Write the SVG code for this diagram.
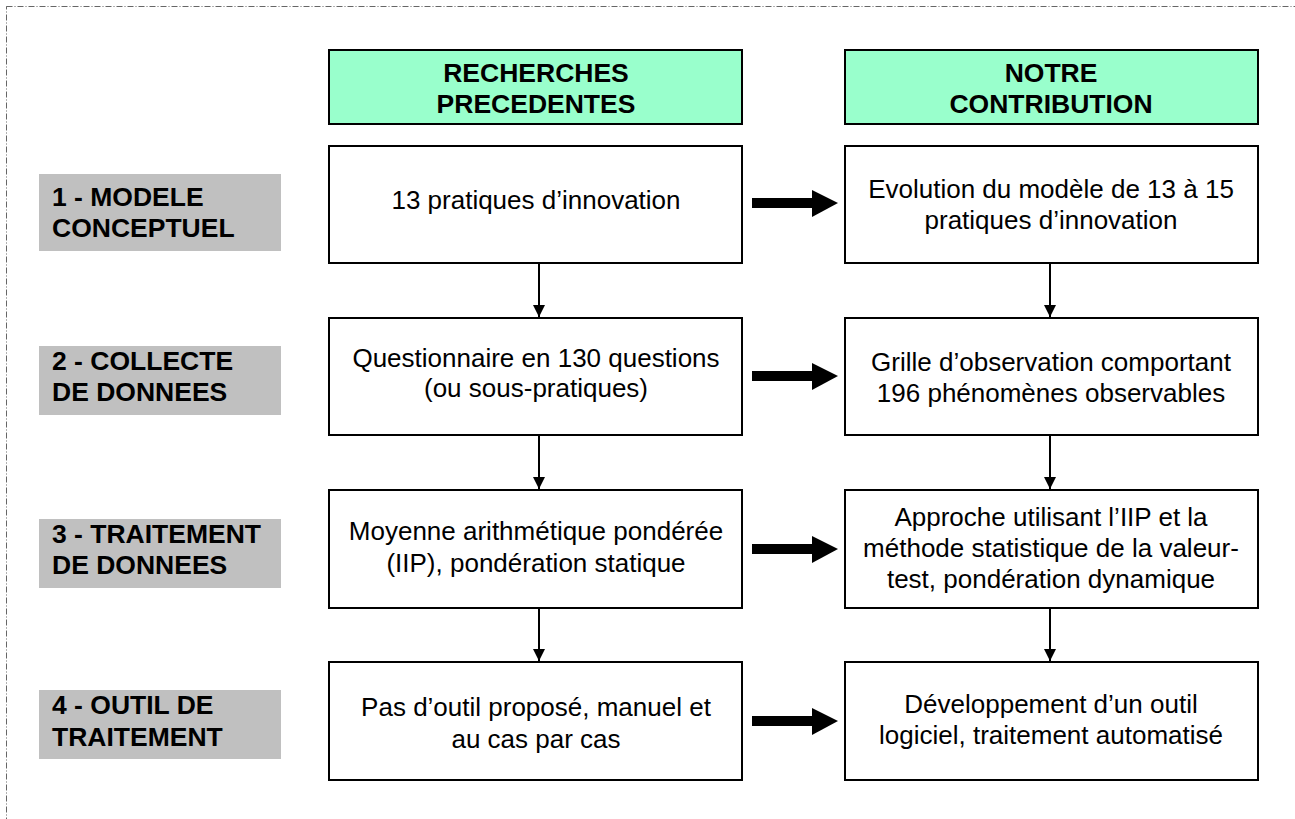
<svg xmlns="http://www.w3.org/2000/svg" width="1295" height="819" viewBox="0 0 1295 819">
<defs>
<style>
.frame{fill:none;stroke:#666;stroke-width:1;stroke-dasharray:6 2 1 2}
.box{fill:#fff;stroke:#000;stroke-width:2}
.hdr{fill:#99ffcc;stroke:#000;stroke-width:2}
.lab{fill:#c0c0c0;stroke:none}
.t{font-family:"Liberation Sans",Arial,sans-serif;font-size:26px;fill:#000;text-anchor:middle}
.b{font-family:"Liberation Sans",Arial,sans-serif;font-size:26.5px;font-weight:bold;fill:#000}
.bc{text-anchor:middle}
.v{stroke:#000;stroke-width:2;fill:none}
</style>
<marker id="ah" markerWidth="12" markerHeight="12" refX="12" refY="6" orient="auto" markerUnits="userSpaceOnUse"><path d="M0,0 L12,6 L0,12 Z" fill="#000"/></marker>
</defs>
<rect class="frame" x="6.5" y="6.5" width="1300" height="830"/>

<g id="hdr-left"><rect class="hdr" x="329" y="50" width="413" height="74"/><text class="b bc" x="536" y="82">RECHERCHES</text><text class="b bc" x="536" y="113">PRECEDENTES</text></g>
<g id="hdr-right"><rect class="hdr" x="845" y="50" width="413" height="74"/><text class="b bc" x="1051" y="82">NOTRE</text><text class="b bc" x="1051" y="113">CONTRIBUTION</text></g>

<g id="lab1"><rect class="lab" x="39" y="174" width="242" height="77"/><text class="b" x="52" y="206">1 - MODELE</text><text class="b" x="52" y="237">CONCEPTUEL</text></g>
<g id="lab2"><rect class="lab" x="39" y="346" width="242" height="69"/><text class="b" x="52" y="370">2 - COLLECTE</text><text class="b" x="52" y="401">DE DONNEES</text></g>
<g id="lab3"><rect class="lab" x="39" y="519" width="242" height="69"/><text class="b" x="52" y="543">3 - TRAITEMENT</text><text class="b" x="52" y="574">DE DONNEES</text></g>
<g id="lab4"><rect class="lab" x="39" y="690" width="242" height="69"/><text class="b" x="52" y="714">4 - OUTIL DE</text><text class="b" x="52" y="746">TRAITEMENT</text></g>

<g id="l1"><rect class="box" x="329" y="146" width="413" height="117"/><text class="t" x="536" y="209">13 pratiques d’innovation</text></g>
<g id="r1"><rect class="box" x="845" y="146" width="413" height="117"/><text class="t" x="1051" y="198">Evolution du modèle de 13 à 15</text><text class="t" x="1051" y="229">pratiques d’innovation</text></g>
<g id="l2"><rect class="box" x="329" y="318" width="413" height="117"/><text class="t" x="536" y="367">Questionnaire en 130 questions</text><text class="t" x="536" y="397">(ou sous-pratiques)</text></g>
<g id="r2"><rect class="box" x="845" y="318" width="413" height="117"/><text class="t" x="1051" y="371">Grille d’observation comportant</text><text class="t" x="1051" y="402">196 phénomènes observables</text></g>
<g id="l3"><rect class="box" x="329" y="490" width="413" height="118"/><text class="t" x="536" y="540">Moyenne arithmétique pondérée</text><text class="t" x="536" y="572">(IIP), pondération statique</text></g>
<g id="r3"><rect class="box" x="845" y="490" width="413" height="118"/><text class="t" x="1051" y="526">Approche utilisant l’IIP et la</text><text class="t" x="1051" y="557">méthode statistique de la valeur-</text><text class="t" x="1051" y="588">test, pondération dynamique</text></g>
<g id="l4"><rect class="box" x="329" y="662" width="413" height="118"/><text class="t" x="536" y="716">Pas d’outil proposé, manuel et</text><text class="t" x="536" y="748">au cas par cas</text></g>
<g id="r4"><rect class="box" x="845" y="662" width="413" height="118"/><text class="t" x="1051" y="713">Développement d’un outil</text><text class="t" x="1051" y="744">logiciel, traitement automatisé</text></g>

<g id="connectors">
<line class="v" x1="539" y1="263" x2="539" y2="317" marker-end="url(#ah)"/>
<line class="v" x1="539" y1="435" x2="539" y2="489" marker-end="url(#ah)"/>
<line class="v" x1="539" y1="608" x2="539" y2="661" marker-end="url(#ah)"/>
<line class="v" x1="1050" y1="263" x2="1050" y2="317" marker-end="url(#ah)"/>
<line class="v" x1="1050" y1="435" x2="1050" y2="489" marker-end="url(#ah)"/>
<line class="v" x1="1050" y1="608" x2="1050" y2="661" marker-end="url(#ah)"/>
<g fill="#000">
<rect x="752" y="198" width="62" height="10"/><path d="M812,190 L838,203 L812,217 Z"/>
<rect x="752" y="371" width="62" height="10"/><path d="M812,363 L838,376 L812,390 Z"/>
<rect x="752" y="544" width="62" height="10"/><path d="M812,536 L838,549 L812,563 Z"/>
<rect x="752" y="716" width="62" height="10"/><path d="M812,708 L838,721 L812,735 Z"/>
</g>
</g>
</svg>
